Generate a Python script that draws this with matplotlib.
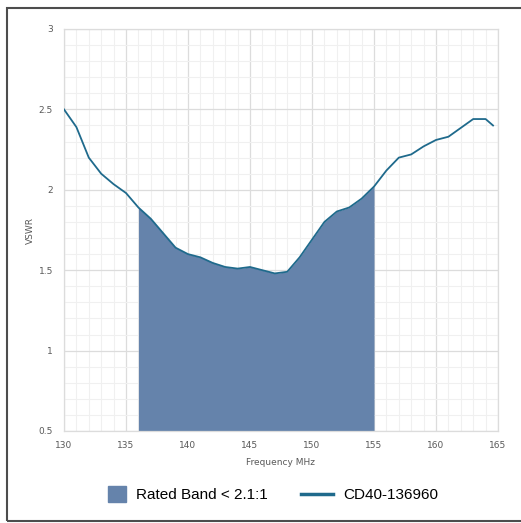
import matplotlib
matplotlib.use('Agg')
import matplotlib.pyplot as plt
from matplotlib.patches import Rectangle, Patch
from matplotlib.lines import Line2D
from matplotlib.legend_handler import HandlerPatch
from matplotlib.ticker import MultipleLocator

# data
freq = [130, 131, 132, 133, 134, 135, 136, 137, 138, 139, 140, 141, 142, 143,
        144, 145, 146, 147, 148, 149, 150, 151, 152, 153, 154, 155, 156, 157,
        158, 159, 160, 161, 162, 163, 164, 164.6]
vswr = [2.50, 2.39, 2.20, 2.10, 2.035, 1.98, 1.89, 1.82, 1.73, 1.64, 1.60, 1.58,
        1.545, 1.52, 1.51, 1.52, 1.50, 1.48, 1.49, 1.58, 1.69, 1.80, 1.865, 1.89,
        1.945, 2.02, 2.12, 2.20, 2.22, 2.27, 2.31, 2.33, 2.385, 2.44, 2.44, 2.40]
band_lo, band_hi = 136, 155
series_name = "CD40-136960"
band_name = "Rated Band < 2.1:1"

line_col = "#1f6a8c"
fill_col = "#6583ab"

fig = plt.figure(figsize=(5.21, 5.23), dpi=100)
ax = fig.add_axes([64/521, 1-431/523, 434/521, 402/523])

band_x = [f for f in freq if band_lo <= f <= band_hi]
band_y = [v for f, v in zip(freq, vswr) if band_lo <= f <= band_hi]
ax.fill_between(band_x, 0.5, band_y, color=fill_col, lw=0, zorder=2)
ax.plot(freq, vswr, color=line_col, lw=1.3, zorder=3)

ax.set_xlim(130, 165)
ax.set_ylim(0.5, 3)
ax.xaxis.set_major_locator(MultipleLocator(5))
ax.xaxis.set_minor_locator(MultipleLocator(1))
ax.yaxis.set_major_locator(MultipleLocator(0.5))
ax.yaxis.set_minor_locator(MultipleLocator(0.1))
ax.set_yticks([0.5, 1, 1.5, 2, 2.5, 3])
ax.set_yticklabels(["0.5", "1", "1.5", "2", "2.5", "3"])
ax.grid(which='major', color='#dcdcdc', lw=0.9, zorder=0)
ax.grid(which='minor', color='#f0f0f0', lw=0.8, zorder=0)
ax.set_axisbelow(True)
ax.tick_params(which='both', length=0, labelsize=6.5, labelcolor='#595959')
ax.tick_params(axis='x', pad=7)
ax.tick_params(axis='y', pad=8)
for s in ax.spines.values():
    s.set_color('#dcdcdc')
    s.set_linewidth(0.9)
ax.set_xlabel("Frequency MHz", fontsize=6.5, color='#595959', labelpad=6)
ax.set_ylabel("VSWR", fontsize=6.5, color='#595959')
ax.yaxis.set_label_coords((35 - 64) / 434, 0.5)


def small_box(legend, orig_handle, xdescent, ydescent, width, height, fontsize):
    w = 18 * 72 / 100
    h = 16 * 72 / 100
    return Rectangle((-xdescent + width - w, -ydescent + height / 2 - h / 2), w, h)


handles = [Patch(color=fill_col, label=band_name),
           Line2D([], [], color=line_col, lw=2.5, label=series_name)]
fig.legend(handles=handles, loc='center', bbox_to_anchor=(266/521, 1-495/523),
           ncol=2, frameon=False, prop={'family': 'Liberation Sans', 'size': 11},
           handlelength=2.1, handletextpad=0.65, columnspacing=2.15,
           handler_map={Patch: HandlerPatch(patch_func=small_box)})

# outer frame
fig.patches.append(Rectangle((6.5/521, 1-520.5/523), 1.1, (520.5-7.5)/523,
                             transform=fig.transFigure, fill=False,
                             edgecolor='#4d4d4d', lw=1.5))

fig.savefig("out.png", dpi=100)
